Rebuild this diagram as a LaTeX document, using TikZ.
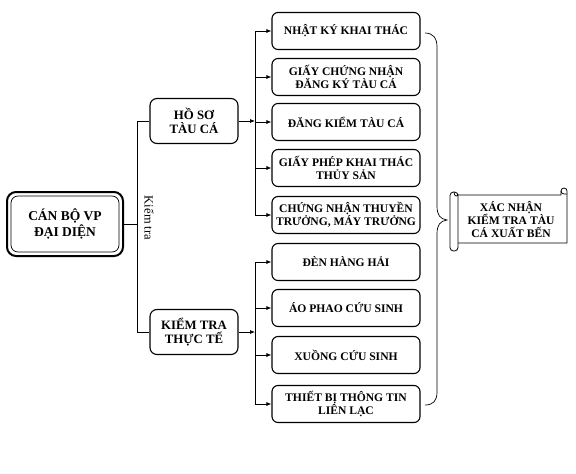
\documentclass[tikz,border=0pt]{standalone}
\usepackage{fontspec}
\setmainfont{Liberation Serif}
\usetikzlibrary{arrows.meta,calc}
\begin{document}
\begin{tikzpicture}[x=1pt,y=1pt,
  every node/.style={font=\fontsize{11.6}{13}\selectfont\bfseries, align=center},
  rbox/.style={draw, line width=1.1pt, rounded corners=6pt, minimum width=148pt, minimum height=37pt, inner sep=1pt},
  mbox/.style={draw, line width=1.1pt, rounded corners=7pt, minimum width=88pt, minimum height=45pt, inner sep=1pt, font=\fontsize{12.8}{14.5}\selectfont\bfseries},
  conn/.style={line width=0.7pt},
  arr/.style={line width=0.7pt, -{Latex[length=5pt,width=4pt]}}
]
\useasboundingbox (0,0) rectangle (576,-474);
% main box
\node[draw, line width=2pt, rounded corners=9pt, minimum width=116pt, minimum height=64pt] (mainout) at (65,-224) {};
\node[draw, line width=0.7pt, rounded corners=7pt, minimum width=108pt, minimum height=56pt, font=\fontsize{13.5}{15.5}\selectfont\bfseries] (main) at (65,-224) {CÁN BỘ VP\\ĐẠI DIỆN};
% second level
\node[mbox] (hs) at (194,-121) {HỒ SƠ\\TÀU CÁ};
\node[mbox] (kt) at (194,-332) {KIỂM TRA\\THỰC TẾ};
% right boxes
\node[rbox] (r1) at (346,-31) {NHẬT KÝ KHAI THÁC};
\node[rbox] (r2) at (346,-77) {GIẤY CHỨNG NHẬN\\ĐĂNG KÝ TÀU CÁ};
\node[rbox] (r3) at (346,-122) {ĐĂNG KIỂM TÀU CÁ};
\node[rbox] (r4) at (346,-168) {GIẤY PHÉP KHAI THÁC\\THỦY SẢN};
\node[rbox] (r5) at (346,-215) {CHỨNG NHẬN THUYỀN\\TRƯỞNG, MÁY TRƯỞNG};
\node[rbox] (r6) at (346,-262) {ĐÈN HÀNG HẢI};
\node[rbox] (r7) at (346,-308) {ÁO PHAO CỨU SINH};
\node[rbox] (r8) at (346,-355) {XUỒNG CỨU SINH};
\node[rbox] (r9) at (346,-404) {THIẾT BỊ THÔNG TIN\\LIÊN LẠC};
% spines
\coordinate (s1) at (137,-224);
\coordinate (sp) at (255,0);
\draw[conn] (mainout.east) -- (s1);
\draw[conn] (hs.west) -- (hs.west -| s1) -- (kt.west -| s1) -- (kt.west);
\node[font=\fontsize{12.5}{13}\selectfont, rotate=-90] (lbl) at (149,-218) {Kiểm tra};
\draw[conn] (r1.west -| sp) -- (r5.west -| sp);
\draw[conn] (r6.west -| sp) -- (r9.west -| sp);
\draw[arr] (hs.east) -- (hs.east -| sp);
\draw[arr] (kt.east) -- (kt.east -| sp);
\foreach \i in {1,...,9} {\draw[arr] (r\i.west -| sp) -- (r\i.west);}
% brace
\coordinate (bt) at (425,-33);
\coordinate (bb) at (425,-405);
\coordinate (tip) at (447,-220);
\draw[conn] (bt) .. controls (433,-33) and (437,-38) .. (437,-47) -- (437,-206)
  .. controls (437,-215) and (440,-219) .. (tip)
  .. controls (440,-221) and (437,-225) .. (437,-234) -- (437,-392)
  .. controls (437,-401) and (433,-405) .. (bb);
% scroll
\begin{scope}[line width=0.8pt]
\draw[fill=white] (456,-195) -- (561,-195) -- (561,-191) arc (180:0:3) -- (567,-243) -- (458,-243);
\draw (561,-191) arc (180:270:3) -- (567,-194);
\draw[fill=white, rounded corners=3.5pt] (450,-192) rectangle (458,-251);
\draw (454,-192) .. controls (454,-197) and (458,-197) .. (458,-194);
\end{scope}
\node (scroll) at (511,-220) {XÁC NHẬN\\KIỂM TRA TÀU\\CÁ XUẤT BẾN};
\end{tikzpicture}
\end{document}
